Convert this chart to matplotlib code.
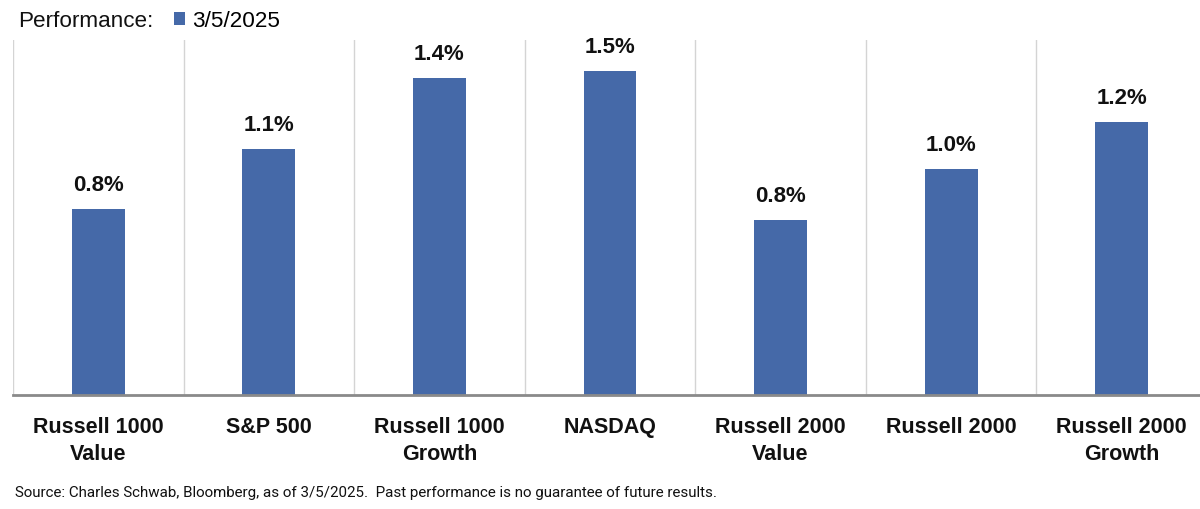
import matplotlib.pyplot as plt
import numpy as np

# performance on 3/5/2025
categories = ["Russell 1000\nValue", "S&P 500", "Russell 1000\nGrowth", "NASDAQ",
              "Russell 2000\nValue", "Russell 2000", "Russell 2000\nGrowth"]
perf = [0.84, 1.11, 1.43, 1.46, 0.79, 1.02, 1.23]
labels = ["0.8%", "1.1%", "1.4%", "1.5%", "0.8%", "1.0%", "1.2%"]
series_name = "3/5/2025"

bar_color = "#4569A8"

fig = plt.figure(figsize=(12, 5.1), dpi=100)
ax = fig.add_axes([0.0108, 0.2235, 0.995, 0.696])

xs = np.arange(len(categories))
bars = ax.bar(xs, perf, width=0.31, color=bar_color, label=series_name, zorder=3)

for x, v, lab in zip(xs, perf, labels):
    ax.annotate(lab, (x, v), xytext=(0, 10), textcoords="offset points",
                ha="center", va="bottom", fontsize=16, fontweight="bold",
                family="Liberation Sans", color="#111111")

ax.set_xlim(-0.5, len(categories) - 0.5)
ax.set_ylim(0, 1.6)

# vertical separators between categories
for b in np.arange(-0.5, len(categories), 1.0):
    ax.axvline(b, color="#d4d4d4", lw=1, zorder=1)

for s in ["top", "right", "left"]:
    ax.spines[s].set_visible(False)
ax.spines["bottom"].set_color("#8a8a8a")
ax.spines["bottom"].set_linewidth(2)
ax.spines["bottom"].set_zorder(4)

ax.set_yticks([])
ax.set_xticks(xs)
ax.set_xticklabels(categories, fontsize=15.5, fontweight="bold",
                   family="Liberation Sans", color="#111111", linespacing=1.4)
ax.tick_params(axis="x", length=0, pad=15)

fig.text(0.015, 0.957, "Performance:", fontsize=16.2, family="Liberation Sans",
         color="#111111", va="center", ha="left")
fig.legend(handles=[bars], labels=[series_name], loc="center left",
           bbox_to_anchor=(0.1355, 0.957), frameon=False, handlelength=0.5,
           handleheight=0.5, handletextpad=0.3, borderpad=0,
           prop={"family": "Liberation Sans", "size": 16.2})

fig.text(0.0125, 0.033, "Source: Charles Schwab, Bloomberg, as of 3/5/2025.  Past performance is no guarantee of future results.",
         fontsize=10.9, family="Roboto", color="#111111", va="center", ha="left")

fig.savefig("out.png", dpi=100, facecolor="white")
